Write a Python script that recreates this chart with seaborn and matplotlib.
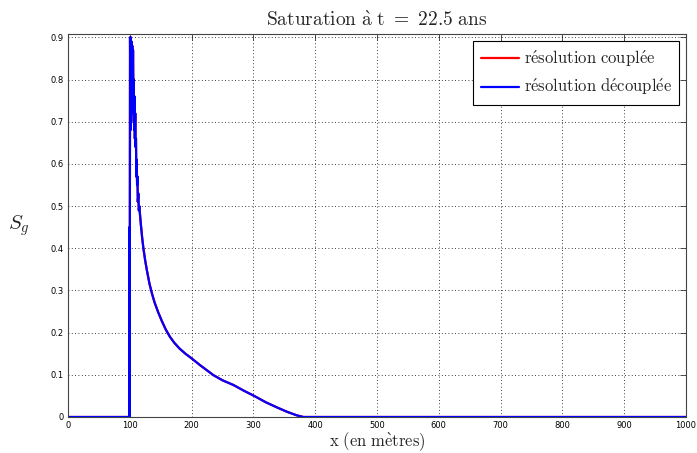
import matplotlib
matplotlib.use("Agg")
import matplotlib.pyplot as plt
import seaborn as sns
import pandas as pd
from matplotlib.ticker import MultipleLocator

# ---- data ----
x_m = [0, 99.0, 99.4, 99.8, 100.4, 101.0, 101.6, 102.2, 102.8, 103.4, 104.0, 104.6,
       105.2, 105.8, 106.4, 107.0, 107.6, 108.2, 108.8, 109.4, 110.0, 110.6, 111.2,
       111.8, 112.4, 113.0, 113.8, 114.6, 115.4, 116.5, 118, 120, 122, 125, 128,
       132, 136, 140, 146, 152, 158, 165, 172, 180, 190, 200, 213.6, 235,
       250, 267.5, 285, 301.5, 320, 337.7, 355, 370, 381, 1000]
sg_decouplee = [0, 0, 0.45, 0.0, 0.90, 0.68, 0.90, 0.70, 0.89, 0.72, 0.88, 0.76,
                0.87, 0.77, 0.80, 0.68, 0.76, 0.66, 0.72, 0.64, 0.66, 0.57, 0.61,
                0.55, 0.57, 0.51, 0.53, 0.49, 0.50, 0.48, 0.455, 0.425, 0.40, 0.37,
                0.345, 0.315, 0.292, 0.272, 0.248, 0.227, 0.208, 0.19, 0.176, 0.163,
                0.15, 0.139, 0.123, 0.0995, 0.087, 0.076, 0.062, 0.0498, 0.035,
                0.023, 0.012, 0.004, 0.0, 0.0]
# coupled solution coincides with the decoupled one (hidden beneath it)
sg_couplee = list(sg_decouplee)

labels = [r"$\mathrm{r\acute{e}solution\ coupl\acute{e}e}$",
          r"$\mathrm{r\acute{e}solution\ d\acute{e}coupl\acute{e}e}$"]
title = r"$\mathrm{Saturation\ \grave{a}\ t\ =\ 22.5\ ans}$"
xlabel = r"$\mathrm{x\ (en\ m\grave{e}tres)}$"
ylabel = r"$S_g$"

df = pd.concat([
    pd.DataFrame({"x": x_m, "Sg": sg_couplee, "serie": labels[0]}),
    pd.DataFrame({"x": x_m, "Sg": sg_decouplee, "serie": labels[1]}),
])

sns.set_style("white")
plt.rcParams["mathtext.fontset"] = "cm"
plt.rcParams["font.family"] = ["DejaVu Sans"]

fig = plt.figure(figsize=(6.97, 4.53), dpi=100)
ax = fig.add_axes([68 / 697, 1 - 417 / 453, (686 - 68) / 697, (417 - 34) / 453])

sns.lineplot(data=df, x="x", y="Sg", hue="serie",
             palette={labels[0]: "#ff0000", labels[1]: "#0000ff"},
             estimator=None, sort=False, linewidth=1.6, ax=ax)

ax.set_xlim(0, 1000)
ax.set_ylim(0, 0.908)
ax.xaxis.set_major_locator(MultipleLocator(100))
ax.yaxis.set_major_locator(MultipleLocator(0.1))
ax.set_yticks(ax.get_yticks())
ax.set_yticklabels([f"{v:g}" for v in ax.get_yticks()])
ax.set_ylim(0, 0.908)
ax.grid(True, color="black", linestyle=(0, (1, 3)), linewidth=0.6)
ax.tick_params(axis="both", direction="in", length=4, width=0.6, labelsize=6,
               top=True, right=True, colors="#333333", labelcolor="black", pad=3)
for s in ax.spines.values():
    s.set_color("#444444")
    s.set_linewidth(0.8)

ax.set_title(title, fontsize=14, pad=6)
ax.set_xlabel(xlabel, fontsize=12, labelpad=0)
ax.set_ylabel(ylabel, fontsize=15, rotation=0, va="center", ha="center")
ax.yaxis.set_label_coords(-0.08, 0.5)

leg = ax.legend(loc="upper right", fontsize=12, frameon=True, fancybox=False,
                edgecolor="black", framealpha=1, handlelength=2.3,
                handletextpad=0.3, borderpad=0.45, labelspacing=0.5,
                borderaxespad=0.4)
leg.get_frame().set_linewidth(0.8)
leg.set_title(None)

fig.savefig("out.png", dpi=100)
